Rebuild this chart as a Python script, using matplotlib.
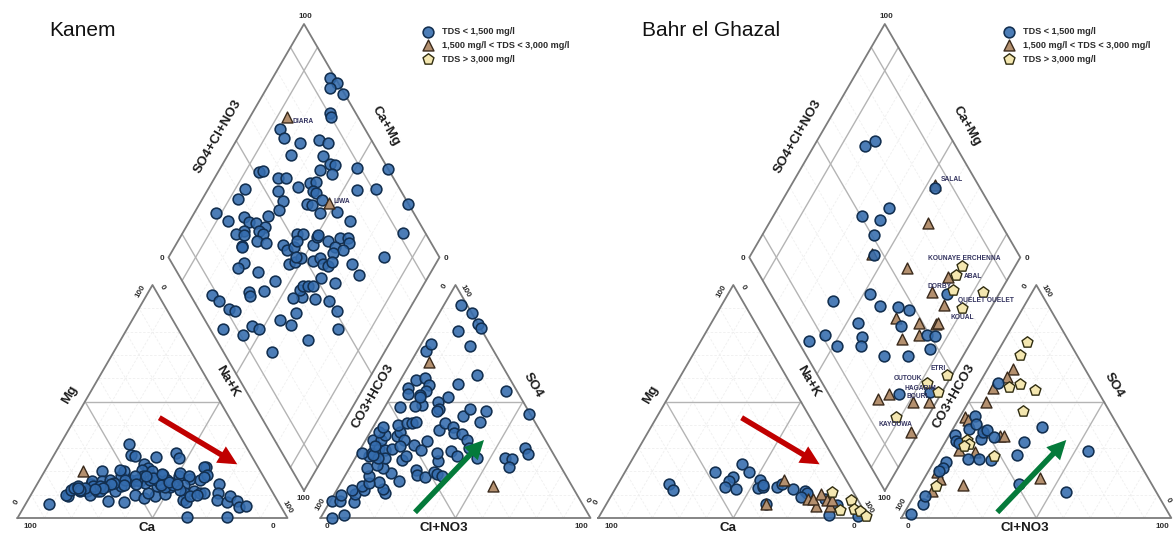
import matplotlib
matplotlib.use("Agg")
import matplotlib.pyplot as plt
from matplotlib.transforms import Affine2D
from matplotlib.patches import FancyArrow

plt.rcParams['font.family'] = ['Liberation Sans', 'DejaVu Sans']

# ---------- data: (Na+K %, Mg %), (Cl+NO3 %, SO4 %), (SO4+Cl+NO3 %, Ca+Mg %) ----------
kanem_cat_low_nak = [8.5,14.0,13,13.8,14.5,15.5,17.3,20.2,19.8,21.7,23.7,24.9,21.2,19.7,23.4,26.3,26.1,30.5,31.3,29.8,36.2,38.6,42.6,46.4,42.8,49.6,29.4,29.5,27.8,34.5,25.3,28.6,30.4,38.4,44.6,46.8,35.3,37.8,35.7,37.7,37.6,39.6,39.8,42.5,44.8,46.9,44.5,49.7,49.9,48,50.7,50.6,55.5,54.4,59.5,58.9,57.9,60.8,60.1,54.4,56.7,59.5,62.3,63.8,57.5,58.9,59.3,67.1,69,69.9,74.4,73.9,77.9,79.8,82.1,62.6,77.6,33.5,36,40.9,45.3,50.6,54.2,61.4,21.3,18.6,28.1,31.7,23.8,34.6,39.8,47.1,43.5,41.5,38.5,46,48.5,52,44,36.5,32.5,27.5,25,22.5,17,16]
kanem_cat_low_mg = [6.0,9.3,10,11.9,12.9,13.6,11.4,11.4,14.7,10,11.4,11.4,20,15.7,15.7,13.6,16.4,11.4,13.9,7.1,6.7,10,8.6,9.3,10.7,10.3,17.9,20,20.4,15.7,31.7,26.9,26.4,26,28.1,25.7,23.3,21.4,20.7,17.9,15.7,18.6,15,17.1,13.6,15.7,18.6,15,13.3,13.3,17.9,19.3,16.9,17.9,16.4,22.1,22.1,18.6,17.6,14.3,10.7,11.4,10.7,10.7,7.9,6.7,9.3,14.7,10.7,7.9,6.7,9.3,7.1,4.6,5,0.3,0.3,16.4,16.4,16.4,15,14.3,12.1,10,13.6,12.9,15,16.4,13.6,17.9,20,16.4,16.5,17,18,14,15.5,14.5,19,14.5,14,14.5,13,12.5,12,13]
kanem_cat_mid_nak = [14.1]
kanem_cat_mid_mg = [20]

kanem_an_low_cl = [4.3,8.0,0.6,3.7,2.6,9,7.6,5.6,10,8.3,18.6,16.8,14,21.3,10.6,9,6.7,16.6,12.6,9.5,4.8,1.6,5,6.5,9.4,11.2,8.3,11.7,2.8,5.6,6.1,3,3.7,10.8,11,14,13.8,8.6,11.7,13.6,15,17.7,18.6,19.1,22.4,22.9,25,26.5,29.8,32.2,33.7,36,31.4,29,33.8,37.5,25.1,25.6,29.8,31.2,34.2,37.6,40,45,31.1,31.8,38.2,38.4,55.5,58.4,58.7,60.8,63,54.8,41.4,27.2,22.3,21.1,18.6,20.6,20.2,13.3,11.2,5.5,4.3,5.7,5.9,8.4,11.9,11.6,10.4,11,3.1,3.7,10.9,18.4,6.4,12,16.5,18.7,6,4.9]
kanem_an_low_so4 = [0,1.3,7.1,7.1,10,6.9,10.4,12.1,12.1,13.9,10.7,12.4,15.3,15.7,15,17.9,21.4,19.3,21.4,22.9,26.4,27.9,27.9,30,29.3,25.7,25.7,29.7,33.6,33.6,35.7,37.1,38.9,35,37.1,33.6,31.1,40,40.7,40.7,41,25,26.4,31.4,29.3,32.9,20.4,18.6,17.6,19.6,19,18.1,24.3,28.1,28.9,26.4,37.6,40.7,38.9,36.4,36.1,33.6,30,25.7,43.6,46.9,41.4,45.9,25.7,25.3,21.9,30,27.6,44.7,54.6,61.4,57.6,52.1,50,46.9,46.1,48.6,47.9,47.6,56,53.3,59.3,60.3,56.9,54.6,52.9,51.9,71.7,74.6,80.3,73.7,91.6,87.9,83.3,81.4,27.1,30.7]
kanem_an_mid_cl = [6.7,57.1]
kanem_an_mid_so4 = [67.1,13.9]

kanem_dia_low_u = [98.1,99.6,95.8,99.3,90.6,90.2,68.6,68.3,73.2,80.7,83.4,67.2,78.7,79.6,81.1,74.7,78,88.7,99.8,51.7,53.4,57.2,60.3,62.7,54.6,42.8,38,54.2,51.1,68.2,70.7,67.8,68.3,68.8,62.7,64,65.5,72.1,84,91.1,99.85,74.8,91.8,79.5,66.4,66.6,56,27.2,29.6,45.8,36.4,37.5,39.6,42,39.1,33.7,29.9,32.7,39.8,36.2,39,29.4,29.2,26.7,23.2,29.7,34.2,22.3,21.8,28.2,8.1,9.4,11.3,13,4.6,16.2,18.1,11,27.8,30.8,34.9,33.9,17.9,47,50.5,50.1,45.1,40.6,37,41.4,43.6,45.2,47.4,51.6,44.9,45.4,48.5,52.6,54.5,50.7,43.1,45.8,48.6,47.2,55.9,59.1,60.1,62.4,67.4,70.2,69.5,63.7,66.1,61.8,52.7,55.8,55.7,57,59.2]
kanem_dia_low_v = [78.9,75,76.8,70.7,71.1,70,86.3,83,75.9,69.6,65.4,76.8,64.7,60.4,58.5,62.6,57.6,49.8,38.1,84.9,83.4,76.7,73.6,67.4,74,86.3,87,69.9,69.3,63.8,61.8,60.8,59.4,55.8,60.2,58.4,53.7,47.5,44.9,38,22.85,40.8,18.5,20.7,30.9,26,33.1,91.9,86,72.1,80.7,77.8,75,70.8,72.3,77.7,80.1,76.7,70.3,70.6,67,75.5,75.2,70.7,72.1,64,55.8,62.7,61.7,57.4,75.8,71.9,66.7,63.9,64.6,54.3,51.3,55.7,45.2,40.1,41.1,30.7,41.7,22.2,26.4,31.4,37,42.4,45.4,44.4,44.1,42.5,40.5,39.4,60.2,57.7,55.9,57.5,55.5,56.1,53.9,52.4,51,53.1,49.5,49.8,49.5,44.4,40.8,37.9,36.5,40.6,37.1,40.2,45.8,44,41.4,39.5,38.8]
kanem_dia_mid_u = [73.7,70.8]
kanem_dia_mid_v = [86.6,52.6]

bahr_cat_low_nak = [19,21.6,33.2,41.6,45.9,41.3,40.7,40.3,44.7,51.9,52.6,54.5,53.8,59.6,60.6,65.7,70.8,71.9,70.6,80,85.7,84.9,95.8,59.1]
bahr_cat_low_mg = [14.7,11.9,19.9,23.1,19.7,17.4,15.7,13.3,12.6,16.1,12.9,13.3,14.3,13.3,14.6,12.6,11.4,10.7,9,8.1,5.7,1.4,1,6.1]
bahr_cat_mid_nak = [60.8,59.1,78,73.7,75.5,77.1,83.3,80.8,82.5]
bahr_cat_mid_mg = [16.1,6.1,5.3,8.3,8.3,10.4,5,7.6,7.9]
bahr_cat_high_nak = [80.9,87.9,89.7,92.8,95.5,98.5]
bahr_cat_high_mg = [11.1,3.6,7.6,3.9,2.9,1]

bahr_an_low_cl = [2.6,5,4.2,4.6,4.7,3.9,12,15.9,2.1,3.6,5.1,6,5.5,7.6,12.7,11.7,13,17.2,29.3,29.5,36.1,32.6,54.7,55.5,6.8,20.6]
bahr_an_low_so4 = [1.7,6,9.3,24,21.4,20,25.4,25.4,35.7,33.1,32.4,38.1,43.6,40.3,34,37.1,37.6,34.6,32.6,26.9,14.7,38.9,28.6,11.1,57.9,25]
bahr_an_mid_cl = [9.5,8.7,6,6.2,1.8,3.7,19.2,20.5,11.6,13.1,6.7,15.9,5.6,3.5,6,42.7]
bahr_an_mid_so4 = [63.9,60.7,55.6,50,43.3,41.9,35,35,36.7,28.3,29.3,14,11.7,19.6,16.7,17.1]
bahr_an_high_cl = [8.9,8.9,12,15.1,21.9,22.2,7.6,9,7.9,21.1,5.8]
bahr_an_high_so4 = [75.4,70,56.1,57.6,55.1,45.9,33.6,31.9,30.7,26.4,13.9]

bahr_dia_low_u = [71.2,66.5,83.5,62,50.5,56.4,50.8,46.6,36.8,37.8,44.1,47.7,26,41.3,64.9,24.7,49,51.7,22.4,28.6,37.4,47.2,26,37.7,21.6,11.1,4.2,13.5]
bahr_dia_low_v = [78.8,81.1,46.4,59.2,67.3,59.6,58.7,54.5,47.6,41.5,34.7,29.8,45.7,29.3,19.3,41.2,17.8,14.8,39.6,29.1,20.4,13.5,15.4,4.5,59.8,55.6,60,48.7]
bahr_dia_mid_u = [84.2,73.3,45.8,55.9,69.3,59.9,61.5,41,48.5,54.8,55.7,45.9,38.7,22.3,17.2,29.5,35.3,22.4]
bahr_dia_mid_v = [47,41.3,55.6,39.4,22.3,25.2,18,32.9,23.2,16.7,16.3,20.8,26.3,19,22.1,8.6,2.6,2.7]
bahr_dia_high_u = [76.8,72.6,68.1,78.8,67.6,47.6,38.8,41,19.8]
bahr_dia_high_v = [19.5,19.7,17.7,6.3,10.8,2,7.5,1.4,11.9]

titles = ["Kanem", "Bahr el Ghazal"]
legend_labels = ["TDS < 1,500 mg/l", "1,500 mg/l < TDS < 3,000 mg/l", "TDS > 3,000 mg/l"]

kanem_sites = [("DIARA", 302.7, 121.3), ("LIWA", 342.3, 201.7)]
bahr_sites = [("SALAL", 951.7, 179.3), ("KOUNAYE ERCHENNA", 964, 258.3), ("ABAL", 973, 276.7),
              ("DORBY", 939.3, 286), ("QUELET OUELET", 986, 300.3), ("KOUAL", 962.7, 317.3),
              ("ETRI", 938.3, 368.3), ("OUTOUK", 907.7, 379), ("HAGARIM", 920, 388.3),
              ("BOURI", 917, 396), ("KAYOUWA", 895, 424.7)]

# ---------- layout ----------
W, H = 1176, 534
fig = plt.figure(figsize=(W / 100, H / 100), dpi=100)
ax = fig.add_axes([0, 0, 1, 1])
ax.set_xlim(0, W)
ax.set_ylim(H, 0)
ax.axis("off")

OFF = 580.8
BASE_Y, SIDE, TRI_H = 518.0, 270.0, 233.0
CAT_X, AN_X, DIA_X, DIA_Y = 17.5, 320.5, 304.0, 490.7
EDGE, MAJOR, MINOR, TXT = "#7c7c7c", "#b4b4b4", "#efefef", "#2b2b2b"
STY = {"low": dict(marker="o", s=60, fc=(0.20, 0.42, 0.68, 0.88), ec="#122f50", lw=1.15),
       "mid": dict(marker="^", s=62, fc="#b4906f", ec="#3a2a1c", lw=1.0),
       "high": dict(marker="p", s=68, fc="#f4e7b0", ec="#2f2c10", lw=1.0)}


def tri_tf(x0):
    return Affine2D.from_values(SIDE / 100, 0, SIDE / 200, -TRI_H / 100, x0, BASE_Y) + ax.transData


def dia_tf(xb):
    hw, hh = 1.355, 2.3335
    return Affine2D.from_values(hw, -hh, -hw, -hh, xb, DIA_Y) + ax.transData


def draw_triangle(tf):
    for p in range(10, 100, 10):
        color, lw, ls = (MAJOR, 1.0, "-") if p == 50 else (MINOR, 0.6, (0, (3, 2)))
        z = 2 if p == 50 else 1
        q = 100 - p
        ax.plot([0, q], [p, p], color=color, lw=lw, ls=ls, transform=tf, zorder=z)
        ax.plot([p, p], [0, q], color=color, lw=lw, ls=ls, transform=tf, zorder=z)
        ax.plot([p, 0], [0, p], color=color, lw=lw, ls=ls, transform=tf, zorder=z)
    ax.plot([0, 100, 0, 0], [0, 0, 100, 0], color=EDGE, lw=1.3, transform=tf, zorder=3)


def draw_diamond(tf):
    for p in range(10, 100, 10):
        major = p in (10, 50, 90)
        color, lw, ls = (MAJOR, 1.0, "-") if major else (MINOR, 0.6, (0, (3, 2)))
        z = 2 if major else 1
        ax.plot([p, p], [0, 100], color=color, lw=lw, ls=ls, transform=tf, zorder=z)
        ax.plot([0, 100], [p, p], color=color, lw=lw, ls=ls, transform=tf, zorder=z)
    ax.plot([0, 100, 100, 0, 0], [0, 0, 100, 100, 0], color=EDGE, lw=1.3, transform=tf, zorder=3)


def pts(x, y, kind, tf, z):
    st = STY[kind]
    ax.scatter(x, y, marker=st["marker"], s=st["s"], facecolor=st["fc"], edgecolor=st["ec"],
               linewidths=st["lw"], transform=tf, zorder=z, clip_on=False)


def static_text(dx):
    small = dict(fontsize=5.8, fontweight="bold", color=TXT, ha="center", va="center", zorder=9)
    big = dict(fontsize=9.6, fontweight="bold", color="#1c1c1c", ha="center", va="center", zorder=9)
    for s, x, y, r in [("100", 140.7, 291, 60), ("0", 162.3, 287.3, -60), ("0", 16, 502.3, 60),
                       ("100", 30.7, 526, 0), ("0", 272.7, 526, 0), ("100", 287.3, 507.3, -60),
                       ("0", 444.3, 286.7, 60), ("100", 465.7, 291, -60), ("100", 320.7, 504, 60),
                       ("0", 326.7, 526, 0), ("100", 581.7, 526, 0), ("0", 587.3, 500, -60),
                       ("100", 303.3, 499, 0), ("100", 305.7, 16.7, 0), ("0", 161.7, 258.3, 0),
                       ("0", 446, 258.3, 0)]:
        ax.text(x + dx, y, s, rotation=r, rotation_mode="anchor", **small)
    for s, x, y, r in [("Mg", 70, 394.3, 60), ("Na+K", 227.3, 381.7, -60), ("Ca", 147.3, 528.3, 0),
                       ("Cl+NO3", 444, 528.3, 0), ("CO3+HCO3", 373.3, 396, 60), ("SO4", 533.3, 385, -60),
                       ("SO4+Cl+NO3", 217.3, 136.7, 60), ("Ca+Mg", 385.7, 126, -60)]:
        ax.text(x + dx, y, s, rotation=r, rotation_mode="anchor", **big)


def legend(mx):
    for kind, lab, y in zip(["low", "mid", "high"], legend_labels, [31.7, 45, 59.3]):
        st = STY[kind]
        ax.scatter([mx], [y], marker=st["marker"], s=st["s"], facecolor=st["fc"],
                   edgecolor=st["ec"], linewidths=st["lw"], zorder=9)
        ax.text(mx + 14, y, lab, fontsize=6.6, fontweight="bold", color="#2b2b2b",
                ha="left", va="center", zorder=9)


def arrows(dx):
    for (x0, y0, x1, y1, c) in [(159.3, 417.7, 237.3, 464.3, "#c00000"),
                                (415, 512.3, 484, 440, "#047a3a")]:
        ax.add_patch(FancyArrow(x0 + dx, y0, x1 - x0, y1 - y0, width=5.5, head_width=19,
                                head_length=19, length_includes_head=True, color=c, lw=0, zorder=8))


# ---------- left: Kanem ----------
tc, ta, td = tri_tf(CAT_X), tri_tf(AN_X), dia_tf(DIA_X)
draw_triangle(tc); draw_triangle(ta); draw_diamond(td)
pts(kanem_cat_low_nak, kanem_cat_low_mg, "low", tc, 5)
pts(kanem_cat_mid_nak, kanem_cat_mid_mg, "mid", tc, 6)
pts(kanem_an_low_cl, kanem_an_low_so4, "low", ta, 5)
pts(kanem_an_mid_cl, kanem_an_mid_so4, "mid", ta, 6)
pts(kanem_dia_low_u, kanem_dia_low_v, "low", td, 5)
pts(kanem_dia_mid_u, kanem_dia_mid_v, "mid", td, 6)
static_text(0); legend(428); arrows(0)
ax.text(49, 31, titles[0], fontsize=15, color="#111111", ha="left", va="center", zorder=9)

# ---------- right: Bahr el Ghazal ----------
tc, ta, td = tri_tf(CAT_X + OFF), tri_tf(AN_X + OFF), dia_tf(DIA_X + OFF)
draw_triangle(tc); draw_triangle(ta); draw_diamond(td)
pts(bahr_cat_low_nak, bahr_cat_low_mg, "low", tc, 5)
pts(bahr_cat_mid_nak, bahr_cat_mid_mg, "mid", tc, 6)
pts(bahr_cat_high_nak, bahr_cat_high_mg, "high", tc, 7)
pts(bahr_an_mid_cl, bahr_an_mid_so4, "mid", ta, 5)
pts(bahr_an_low_cl, bahr_an_low_so4, "low", ta, 6)
pts(bahr_an_high_cl, bahr_an_high_so4, "high", ta, 7)
pts(bahr_dia_mid_u, bahr_dia_mid_v, "mid", td, 5)
pts(bahr_dia_low_u, bahr_dia_low_v, "low", td, 6)
pts(bahr_dia_high_u, bahr_dia_high_v, "high", td, 7)
static_text(OFF); legend(1009); arrows(OFF + 1.5)
ax.text(642, 31, titles[1], fontsize=15, color="#111111", ha="left", va="center", zorder=9)

for s, x, y in kanem_sites + bahr_sites:
    ax.text(x, y, s, fontsize=4.8, fontweight="bold", color="#33335f", ha="center", va="center", zorder=9)

fig.savefig("out.png", dpi=100)
